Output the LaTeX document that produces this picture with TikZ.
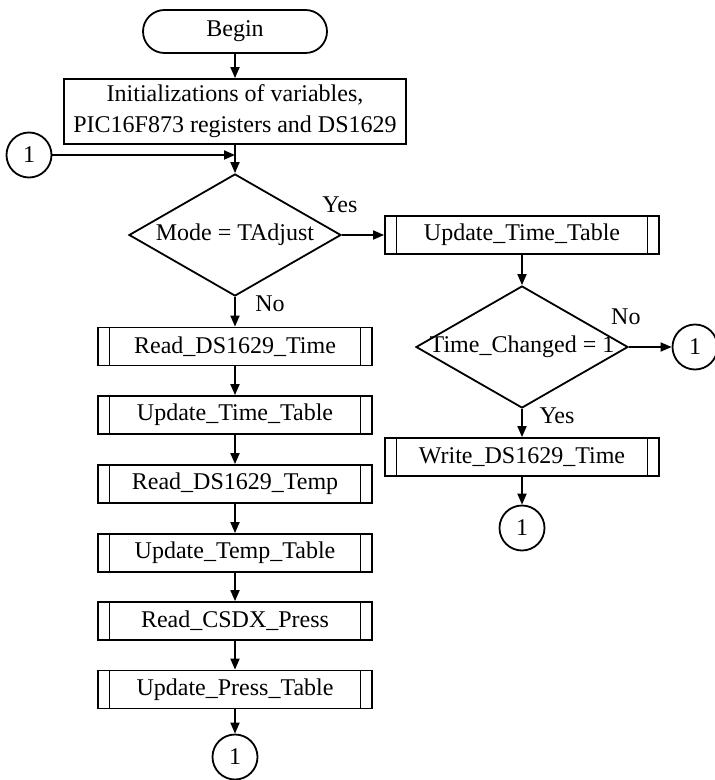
\documentclass[tikz,border=0pt]{standalone}
\usepackage{fontspec}
\setmainfont{Liberation Serif}
\usetikzlibrary{shapes.geometric,arrows.meta}

\begin{document}
\begin{tikzpicture}[x=0.5pt,y=-0.5pt,line width=0.9pt,
        font=\fontsize{12pt}{15.5pt}\selectfont,
        arr/.style={-{Triangle[length=5.5pt,width=4.5pt]}},
        term/.style={draw,rounded corners=10.75pt,minimum width=92pt,minimum height=21.5pt,inner sep=0pt},
        proc/.style={draw,align=center,minimum width=171pt,minimum height=32.5pt,inner sep=0pt},
        sub/.style={draw,minimum width=137pt,minimum height=19pt,inner sep=0pt,
            path picture={\draw ([xshift=5.75pt]path picture bounding box.north west) -- ([xshift=5.75pt]path picture bounding box.south west)
                ([xshift=-5.75pt]path picture bounding box.north east) -- ([xshift=-5.75pt]path picture bounding box.south east);}},
        test/.style={draw,diamond,minimum width=106pt,minimum height=61pt,inner sep=0pt},
        conn/.style={draw,circle,minimum size=22.5pt,inner sep=0pt},
        lbl/.style={inner sep=0pt}]
        \useasboundingbox (0,0) rectangle (715,780);
        % Main loop of the logger
        \node[term] (begin) at (235,31.5) {Begin};
        \node[proc] (init) at (235,111.5) {Initializations of variables,\\PIC16F873 registers and DS1629};
        \node[conn] (c1) at (29,155) {1};
        \coordinate (j) at (235,155);
        \node[test] (mode) at (235,235) {};
        \node at (mode) (modetxt) {Mode = TAdjust};
        \node[sub] (rtime) at (235,346.5) {Read\_DS1629\_Time};
        \node[sub] (utime) at (235,415) {Update\_Time\_Table};
        \node[sub] (rtemp) at (235,484) {Read\_DS1629\_Temp};
        \node[sub] (utemp) at (235,553) {Update\_Temp\_Table};
        \node[sub] (rpress) at (235,621) {Read\_CSDX\_Press};
        \node[sub] (upress) at (235,689.5) {Update\_Press\_Table};
        \node[conn] (c4) at (235,757) {1};
        % Time adjust branch
        \node[sub] (uptime) at (522,235) {Update\_Time\_Table};
        \node[test] (chg) at (522,347) {};
        \node at (chg) (chgtxt) {Time\_Changed = 1};
        \node[conn] (c2) at (695,347) {1};
        \node[sub] (wtime) at (522,457) {Write\_DS1629\_Time};
        \node[conn] (c3) at (522,528) {1};

        \draw[arr] (begin) -- (init);
        \draw[arr] (c1) -- (j);
        \draw[arr] (init) -- (mode.north);
        \draw[arr] (mode.east) -- node[lbl,at start,yshift=15pt,xshift=-1pt] (yes1) {Yes} (uptime.west);
        \draw[arr] (mode.south) -- node[lbl,at start,xshift=17.5pt,yshift=-3.5pt] (no1) {No} (rtime.north);
        \draw[arr] (rtime) -- (utime);
        \draw[arr] (utime) -- (rtemp);
        \draw[arr] (rtemp) -- (utemp);
        \draw[arr] (utemp) -- (rpress);
        \draw[arr] (rpress) -- (upress);
        \draw[arr] (upress) -- (c4);
        \draw[arr] (uptime) -- (chg.north);
        \draw[arr] (chg.east) -- node[lbl,at start,yshift=15pt,xshift=-1.5pt] (no2) {No} (c2);
        \draw[arr] (chg.south) -- node[lbl,at start,xshift=17.5pt,yshift=-3.5pt] (yes2) {Yes} (wtime.north);
        \draw[arr] (wtime) -- (c3);
\end{tikzpicture}
\end{document}
